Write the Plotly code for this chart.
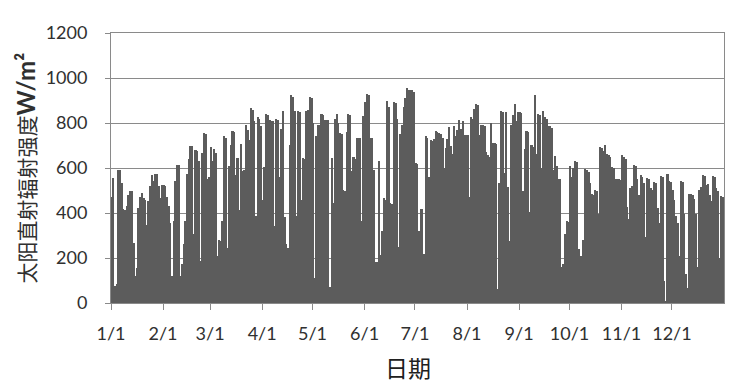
import plotly.graph_objects as go

# Daily direct solar radiation (W/m2), one list per month
jan = [470, 555, 75, 85, 590, 590, 533, 420, 415, 430, 481, 496, 496, 267, 118, 155, 422, 470, 489, 467,
       460, 348, 452, 518, 570, 544, 575, 575, 520, 467, 525]
feb = [523, 520, 470, 430, 356, 118, 363, 541, 612, 612, 118, 173, 262, 363, 575, 641, 696, 696, 307, 680,
       675, 630, 188, 667, 755, 750, 553, 558]
mar = [692, 630, 686, 667, 207, 281, 275, 363, 741, 735, 244, 607, 701, 766, 760, 570, 644, 415, 707, 585,
       593, 790, 770, 726, 867, 860, 810, 385, 825, 820, 785]
apr = [459, 603, 840, 835, 815, 807, 807, 341, 819, 815, 559, 775, 855, 381, 262, 244, 701, 923, 915, 855,
       385, 855, 850, 459, 644, 640, 855, 859, 914, 910]
may = [800, 110, 741, 793, 790, 840, 835, 812, 812, 812, 70, 644, 444, 818, 840, 800, 755, 750, 504, 500,
       760, 840, 835, 588, 647, 640, 733, 733, 733, 366, 830]
jun = [893, 930, 925, 733, 733, 593, 182, 182, 630, 215, 321, 467, 460, 899, 870, 444, 440, 892, 888, 819,
       247, 751, 793, 870, 911, 956, 948, 945, 945, 940]
jul = [622, 620, 321, 419, 419, 218, 741, 735, 559, 726, 720, 729, 766, 760, 755, 750, 733, 600, 689, 730,
       781, 696, 662, 785, 741, 770, 812, 775, 807, 748, 745]
aug = [748, 470, 825, 820, 864, 886, 880, 748, 790, 790, 785, 671, 656, 650, 800, 711, 711, 705, 62, 533,
       852, 848, 578, 847, 514, 277, 793, 834, 886, 807, 849]
sep = [849, 845, 499, 686, 766, 760, 404, 701, 695, 923, 662, 840, 835, 600, 855, 825, 820, 785, 785, 780,
       593, 652, 607, 553, 550, 159, 173, 307, 363, 360]
oct_ = [607, 558, 600, 632, 627, 241, 207, 207, 281, 597, 590, 582, 533, 484, 480, 504, 499, 396, 692, 688,
        677, 701, 662, 658, 647, 603, 600, 553, 553, 550, 545]
nov = [656, 650, 641, 425, 375, 511, 518, 612, 608, 553, 478, 567, 560, 533, 292, 555, 550, 511, 504, 538,
       535, 422, 356, 563, 560, 99, 7, 573, 544, 540]
dec = [504, 459, 385, 356, 207, 544, 540, 396, 129, 67, 486, 486, 480, 464, 396, 159, 504, 514, 570, 565,
       526, 529, 478, 455, 566, 560, 511, 496, 200, 474, 470]

months = [jan, feb, mar, apr, may, jun, jul, aug, sep, oct_, nov, dec]
month_labels = ["1/1", "2/1", "3/1", "4/1", "5/1", "6/1", "7/1", "8/1", "9/1", "10/1", "11/1", "12/1"]
y_ticks = [0, 200, 400, 600, 800, 1000, 1200]

values = [v for m in months for v in m]
days = list(range(len(values)))

tick_pos = []
start = 0
for m in months:
    tick_pos.append(start - 0.5)
    start += len(m)

GRID = "#8a8a8a"
TXT = "#303030"

fig = go.Figure(go.Bar(x=days, y=values, marker=dict(color="#5c5c5c", line=dict(width=0))))

fig.update_layout(
    width=748, height=388,
    margin=dict(l=111, r=24, t=33, b=85),
    paper_bgcolor="white", plot_bgcolor="white",
    bargap=0, showlegend=False,
    font=dict(family="Lato", color=TXT),
)
fig.update_xaxes(
    range=[-0.5, len(values) - 0.5],
    tickmode="array", tickvals=tick_pos, ticktext=month_labels,
    ticks="outside", ticklen=6, tickcolor=GRID, tickwidth=1,
    showline=True, linecolor=GRID, linewidth=1, mirror=True,
    showgrid=False, zeroline=False,
    tickfont=dict(size=18, family="Lato", color=TXT),
    ticklabelstandoff=8,
)
fig.update_yaxes(
    range=[0, 1200],
    tickmode="array", tickvals=y_ticks,
    ticks="outside", ticklen=5, tickcolor=GRID, tickwidth=1,
    showline=True, linecolor=GRID, linewidth=1, mirror=True,
    showgrid=True, gridcolor=GRID, gridwidth=1, zeroline=False,
    tickfont=dict(size=18, family="Lato", color=TXT),
    ticklabelstandoff=14,
)

fig.add_annotation(
    xref="paper", yref="paper", x=-0.138, y=0.5,
    xanchor="center", yanchor="middle", textangle=-90, showarrow=False,
    text="<span style='font-family:Noto Sans CJK SC'>太阳直射辐射强度</span>"
         "<b><span style='font-family:Lato;font-size:24px'>W/m²</span></b>",
    font=dict(size=21, color=TXT, family="Noto Sans CJK SC"),
)
fig.add_annotation(
    xref="paper", yref="paper", x=0.485, y=-0.237,
    xanchor="center", yanchor="middle", showarrow=False,
    text="日期", font=dict(size=23, color="#202020", family="Noto Sans CJK SC"),
)

fig.write_html("out.html")
